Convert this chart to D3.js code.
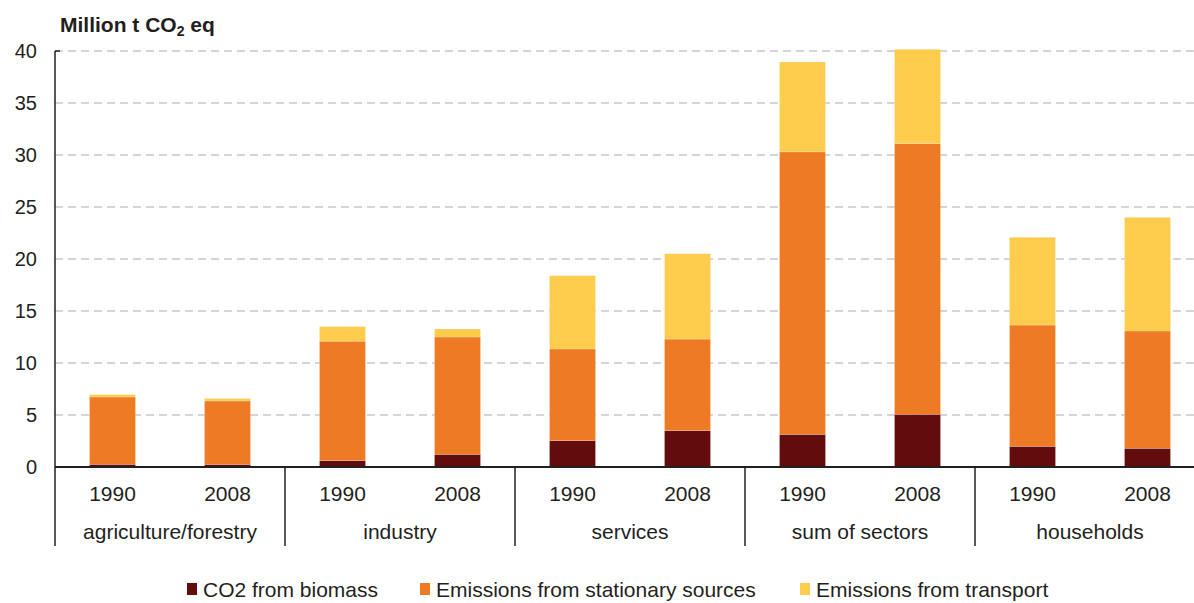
<!DOCTYPE html>
<html>
<head>
<meta charset="utf-8">
<script src="https://cdn.jsdelivr.net/npm/d3@7"></script>
<style>
  body { margin: 0; background: #fff; }
  svg { display: block; font-family: "Liberation Sans", Arial, sans-serif; }
</style>
</head>
<body>
<svg id="chart" width="1194" height="603"></svg>
<script>
const sectors = ['agriculture/forestry', 'industry', 'services', 'sum of sectors', 'households'];
const years = ['1990', '2008'];
const seriesNames = ['CO2 from biomass', 'Emissions from stationary sources', 'Emissions from transport'];
const colors = ['#620c0e', '#ee7a23', '#fecc4c'];

// one value per sector/year pair, in sector order (1990, 2008, 1990, 2008, ...)
const biomass = [0.26, 0.25, 0.62, 1.22, 2.54, 3.5, 3.14, 5.07, 1.99, 1.8];
const stationary = [6.47, 6.1, 11.48, 11.28, 8.81, 8.8, 27.16, 26.03, 11.66, 11.28];
const transport = [0.23, 0.23, 1.4, 0.77, 7.05, 8.2, 8.64, 9.06, 8.44, 10.92];
const yTicks = [0, 5, 10, 15, 20, 25, 30, 35, 40];

const svg = d3.select('#chart');
const margin = { left: 55, right: -11, top: 51, bottom: 136 };
const width = 1194 - margin.left - margin.right;
const height = 603 - margin.top - margin.bottom;
const TEXT_COLOR = '#231f20';

const rows = [];
sectors.forEach((s, i) => {
  years.forEach((y, j) => {
    const k = i * 2 + j;
    rows.push({ sector: s, year: y, b: biomass[k], s: stationary[k], t: transport[k] });
  });
});

const layers = d3.stack().keys(['b', 's', 't'])(rows);

const x0 = d3.scaleBand().domain(sectors).range([0, width]);
const x1 = d3.scaleBand().domain(years).range([0, x0.bandwidth()]).paddingInner(0.6).paddingOuter(0.3);
const y = d3.scaleLinear().domain([0, 40]).range([height, 0]);

const g = svg.append('g').attr('transform', `translate(${margin.left},${margin.top})`);

// grid lines
g.append('g')
  .selectAll('line')
  .data(yTicks.filter((d) => d > 0))
  .enter()
  .append('line')
  .attr('x1', 0)
  .attr('x2', width)
  .attr('y1', (d) => y(d))
  .attr('y2', (d) => y(d))
  .attr('stroke', '#c8c8c8')
  .attr('stroke-width', 1.5)
  .attr('stroke-dasharray', '8,5');

// bars
g.append('g')
  .selectAll('g')
  .data(layers)
  .enter()
  .append('g')
  .attr('fill', (d, i) => colors[i])
  .selectAll('rect')
  .data((d) => d)
  .enter()
  .append('rect')
  .attr('x', (d) => x0(d.data.sector) + x1(d.data.year))
  .attr('width', x1.bandwidth())
  .attr('y', (d) => y(d[1]))
  .attr('height', (d) => y(d[0]) - y(d[1]))
  .attr('stroke', '#ffffff')
  .attr('stroke-opacity', 0.35)
  .attr('stroke-width', 0.6);

// y axis
const yAxis = d3.axisLeft(y).tickValues(yTicks).tickSize(0).tickPadding(18);
g.append('g')
  .call(yAxis)
  .call((a) => a.select('.domain').remove())
  .selectAll('text')
  .attr('font-size', 20)
  .attr('fill', TEXT_COLOR)
  .attr('font-family', '"Liberation Sans", Arial, sans-serif');

g.append('line')
  .attr('x1', 0).attr('x2', 0)
  .attr('y1', 0).attr('y2', height)
  .attr('stroke', TEXT_COLOR).attr('stroke-width', 1.5);
g.append('line')
  .attr('x1', 0).attr('x2', 5)
  .attr('y1', 0).attr('y2', 0)
  .attr('stroke', TEXT_COLOR).attr('stroke-width', 1.5);

// x axis baseline and group separators
g.append('line')
  .attr('x1', 0).attr('x2', width)
  .attr('y1', height).attr('y2', height)
  .attr('stroke', TEXT_COLOR).attr('stroke-width', 2);

g.append('g')
  .selectAll('line')
  .data(sectors)
  .enter()
  .append('line')
  .attr('x1', (d) => x0(d))
  .attr('x2', (d) => x0(d))
  .attr('y1', height)
  .attr('y2', height + 79)
  .attr('stroke', TEXT_COLOR)
  .attr('stroke-width', 1.5);

// year labels
g.append('g')
  .selectAll('text')
  .data(rows)
  .enter()
  .append('text')
  .attr('x', (d) => x0(d.sector) + x1(d.year) + x1.bandwidth() / 2)
  .attr('y', height + 34)
  .attr('text-anchor', 'middle')
  .attr('font-size', 21)
  .attr('fill', TEXT_COLOR)
  .text((d) => d.year);

// sector labels
g.append('g')
  .selectAll('text')
  .data(sectors)
  .enter()
  .append('text')
  .attr('x', (d) => x0(d) + x0.bandwidth() / 2)
  .attr('y', height + 72)
  .attr('text-anchor', 'middle')
  .attr('font-size', 21)
  .attr('fill', TEXT_COLOR)
  .text((d) => d);

// title
const title = svg.append('text')
  .attr('x', 60)
  .attr('y', 32)
  .attr('font-size', 21)
  .attr('font-weight', 'bold')
  .attr('fill', TEXT_COLOR);
title.append('tspan').text('Million t CO');
title.append('tspan').attr('font-size', 14).attr('dy', 4).text('2');
title.append('tspan').attr('dy', -4).text(' eq');

// legend
const legendX = [187, 420, 800];
const legend = svg.append('g')
  .selectAll('g')
  .data(seriesNames)
  .enter()
  .append('g')
  .attr('transform', (d, i) => `translate(${legendX[i]},0)`);
legend.append('rect')
  .attr('x', 0)
  .attr('y', 583)
  .attr('width', 10)
  .attr('height', 12)
  .attr('fill', (d, i) => colors[i]);
legend.append('text')
  .attr('x', 16)
  .attr('y', 597)
  .attr('font-size', 21)
  .attr('fill', TEXT_COLOR)
  .text((d) => d);
</script>
</body>
</html>
